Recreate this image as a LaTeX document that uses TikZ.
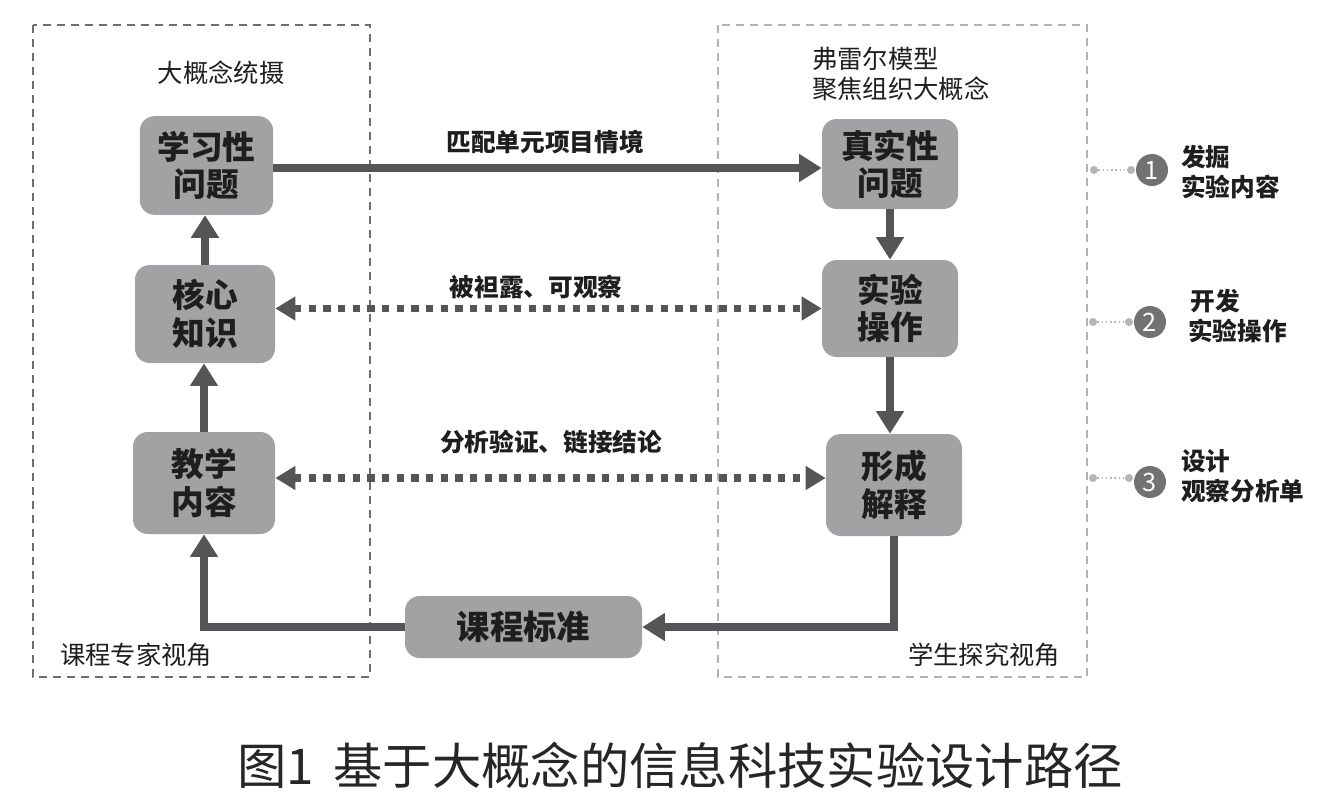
\documentclass[tikz,border=0pt]{standalone}
\usepackage{fontspec}
\setmainfont{Noto Sans CJK SC}
\usetikzlibrary{arrows.meta,calc}
\definecolor{boxfill}{HTML}{A2A2A5}
\definecolor{arrowc}{HTML}{555557}
\definecolor{txtc}{HTML}{1E1E1E}
\definecolor{frameA}{HTML}{6E6E6E}
\definecolor{frameB}{HTML}{B4B4B4}
\definecolor{numc}{HTML}{727274}
\tikzset{
  stepbox/.style={draw=none, fill=boxfill, rounded corners=11pt, align=center,
    font=\fontsize{24.5pt}{28pt}\selectfont\bfseries, text=txtc, inner sep=0pt},
  flow/.style={draw=arrowc, line width=6pt, -{Triangle[length=17pt,width=20pt]}},
  dots/.style={draw=arrowc, line width=5.5pt, dash pattern=on 5.5pt off 5.5pt,
    {Triangle[length=15pt,width=17pt]}-{Triangle[length=15pt,width=17pt]}},
  elabel/.style={font=\fontsize{18.5pt}{22pt}\selectfont\bfseries, text=txtc},
  plain/.style={font=\fontsize{19pt}{22.5pt}\selectfont, text=txtc, align=left},
  side/.style={font=\fontsize{18.5pt}{22.5pt}\selectfont\bfseries, text=txtc, align=left, anchor=west, inner sep=0pt},
  numcirc/.style={circle, fill=numc, minimum size=24pt, inner sep=0pt, text=white,
    font=\fontsize{19pt}{19pt}\selectfont},
  smalldot/.style={circle, fill=frameB, minimum size=6pt, inner sep=0pt},
  frame/.style={line width=1.5pt, dash pattern=on 6pt off 4.5pt}
}
\begin{document}
\begin{tikzpicture}[x=0.75pt,y=-0.75pt]
\useasboundingbox (0,0) rectangle (1330,808);
% frames
\draw[frame, draw=frameA] (33,25) rectangle (370,677);
\draw[frame, draw=frameB] (718,25) rectangle (1087,677);
% nodes
\node[stepbox, minimum width=100pt, minimum height=74pt] (xuexi) at (206.5,165.5) {学习性\\问题};
\node[stepbox, minimum width=105pt, minimum height=73.5pt] (hexin) at (205,314) {核心\\知识};
\node[stepbox, minimum width=106.5pt, minimum height=76.5pt] (jiaoxue) at (204,483) {教学\\内容};
\node[stepbox, minimum width=102pt, minimum height=67.5pt] (zhenshi) at (890,164) {真实性\\问题};
\node[stepbox, minimum width=102pt, minimum height=72.75pt] (shiyan) at (890,308.5) {实验\\操作};
\node[stepbox, minimum width=102pt, minimum height=76.5pt] (xingcheng) at (894,485) {形成\\解释};
\node[stepbox, minimum width=177.75pt, minimum height=46.5pt, font=\fontsize{25pt}{28pt}\selectfont\bfseries] (kecheng) at (523.5,627) {课程标准};
% labels
\node[plain] (lblA) at (221,73) {大概念统摄};
\node[plain, anchor=west, inner sep=0pt] (lblB) at (812,74) {弗雷尔模型\\聚焦组织大概念};
\node[plain] (lblC) at (136,655) {课程专家视角};
\node[plain] (lblD) at (984,655) {学生探究视角};
% connectors
\draw[flow] (xuexi.east |- 0,168) coordinate (xs) -- (zhenshi.west |- xs);
\node[elabel] (e1) at (545,142) {匹配单元项目情境};
\draw[flow] (hexin.north) -- (xuexi.south -| hexin.north);
\draw[flow] (jiaoxue.north) -- (hexin.south -| jiaoxue.north);
\draw[flow] (zhenshi.south) -- (shiyan.north -| zhenshi.south);
\draw[flow] (shiyan.south) -- (xingcheng.north -| shiyan.south);
\draw[dots] (hexin.east |- shiyan.west) -- (shiyan.west);
\node[elabel] (e2) at (536,287) {被袒露、可观察};
\draw[dots] (jiaoxue.east |- 0,478) coordinate (ds) -- (xingcheng.west |- ds);
\node[elabel] (e3) at (551,442) {分析验证、链接结论};
\draw[flow, rounded corners=0pt] (xingcheng.south) |- (kecheng.east);
\draw[flow] (kecheng.west) -| (jiaoxue.south);
% numbered steps
\node[numcirc] (n1) at (1152,170) {1};
\node[smalldot] (d1) at (1094,170) {};
\node[smalldot] (d1b) at (1131,170) {};
\draw[frameB, line width=1.2pt, dotted] (d1) -- (d1b);
\node[side] (t1) at (1181,172) {发掘\\实验内容};
\node[numcirc] (n2) at (1150,322) {2};
\node[smalldot] (d2) at (1093,322) {};
\node[smalldot] (d2b) at (1129,322) {};
\draw[frameB, line width=1.2pt, dotted] (d2) -- (d2b);
\node[side] (t2) at (1188,316) {\hspace*{2pt}开发\\实验操作};
\node[numcirc] (n3) at (1150,482) {3};
\node[smalldot] (d3) at (1093,478) {};
\node[smalldot] (d3b) at (1129,478) {};
\draw[frameB, line width=1.2pt, dotted] (d3) -- (d3b);
\node[side] (t3) at (1181,476) {设计\\观察分析单};
% caption
\node[font=\fontsize{37pt}{42pt}\selectfont, text=black!85] (cap) at (680,765) {图1\hspace{0.4em}基于大概念的信息科技实验设计路径};
\end{tikzpicture}
\end{document}
